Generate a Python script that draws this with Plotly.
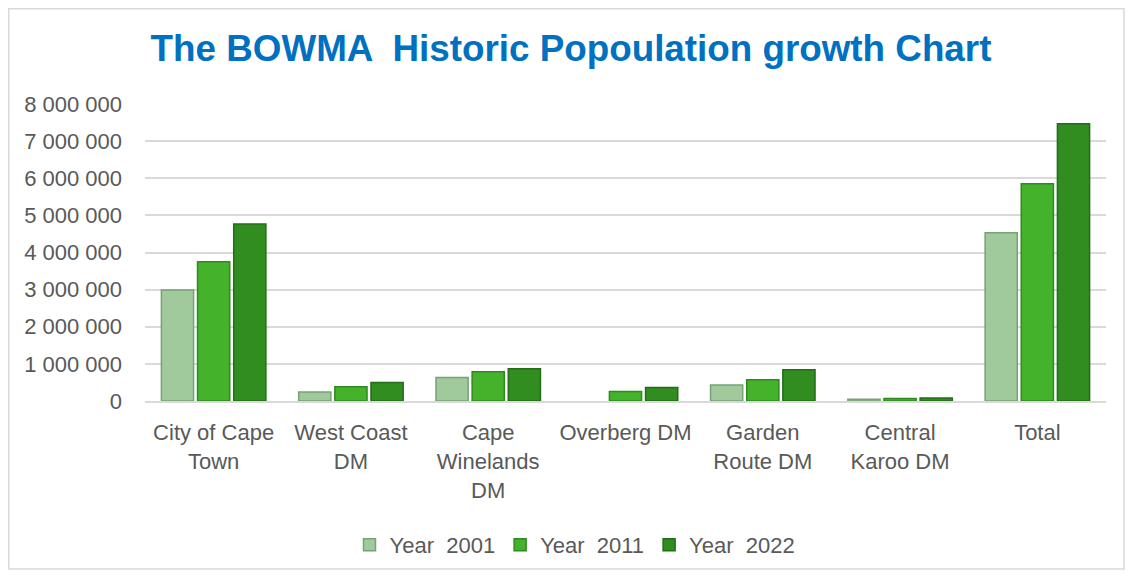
import plotly.graph_objects as go

categories = ["City of Cape<br>Town", "West Coast<br>DM", "Cape<br>Winelands<br>DM",
              "Overberg DM", "Garden<br>Route DM", "Central<br>Karoo DM", "Total"]
year_2001 = [2990000, 245000, 630000, None, 430000, 50000, 4530000]
year_2011 = [3750000, 385000, 790000, 255000, 575000, 65000, 5850000]
year_2022 = [4770000, 495000, 870000, 365000, 840000, 80000, 7470000]
series_names = ["Year  2001", "Year  2011", "Year  2022"]
tick_vals = [0, 1000000, 2000000, 3000000, 4000000, 5000000, 6000000, 7000000, 8000000]

fills = ["#a0ca9c", "#45b22c", "#318d20"]
edges = ["#77a277", "#2e8a1e", "#236d18"]

fig = go.Figure()
for name, vals, fc, ec in zip(series_names, [year_2001, year_2011, year_2022], fills, edges):
    fig.add_trace(go.Bar(x=categories, y=vals, name=name,
                         marker=dict(color=fc, line=dict(color=ec, width=1.5))))

# page has an 8px body margin; work in figure pixels = page pixels - 8
OFF = 8
W, H = 1117, 562
L, R, T, B = 145 - OFF, W - (1106 - OFF), 104 - OFF, H - (401 - OFF)
pw, ph = W - L - R, H - T - B

fig.update_layout(
    width=W, height=H,
    margin=dict(l=L, r=R, t=T, b=B, autoexpand=False),
    paper_bgcolor="white", plot_bgcolor="white",
    separators=". ",
    barmode="group", bargap=0.21, bargroupgap=0.11,
    title=dict(text="<b>The BOWMA  Historic Popoulation growth Chart</b>",
               x=(571 - OFF) / W, xanchor="center", y=1 - (48 - OFF) / H, yanchor="middle",
               font=dict(family="Liberation Sans, Arial", size=36.8, color="#0070c0")),
    font=dict(family="Liberation Sans, Arial", size=22, color="#595959"),
    xaxis=dict(showgrid=False, showline=True, linecolor="#d9d9d9", linewidth=2,
               ticks="", tickfont=dict(size=22, color="#595959"), ticklabelstandoff=11),
    yaxis=dict(range=[0, 8000000], tickvals=tick_vals, tickformat=",d",
               showgrid=True, gridcolor="#d9d9d9", gridwidth=2,
               zeroline=False, showline=False, ticks="",
               tickfont=dict(size=22, color="#595959"), ticklabelstandoff=22),
    legend=dict(orientation="h", xref="container", yref="container",
                x=(575 - OFF) / W, xanchor="center", y=1 - (545 - OFF) / H, yanchor="middle",
                font=dict(size=22, color="#595959"), traceorder="normal",
                itemwidth=30, bgcolor="rgba(0,0,0,0)"),
    shapes=[dict(type="rect", xref="paper", yref="paper",
                 x0=(-L + 0.75) / pw, x1=(W - L - 1) / pw,
                 y0=-(B - 1) / ph, y1=(ph + T - 0.75) / ph,
                 line=dict(color="#d9d9d9", width=1.5), fillcolor="rgba(0,0,0,0)", layer="below")],
)

fig.write_html("out.html")
